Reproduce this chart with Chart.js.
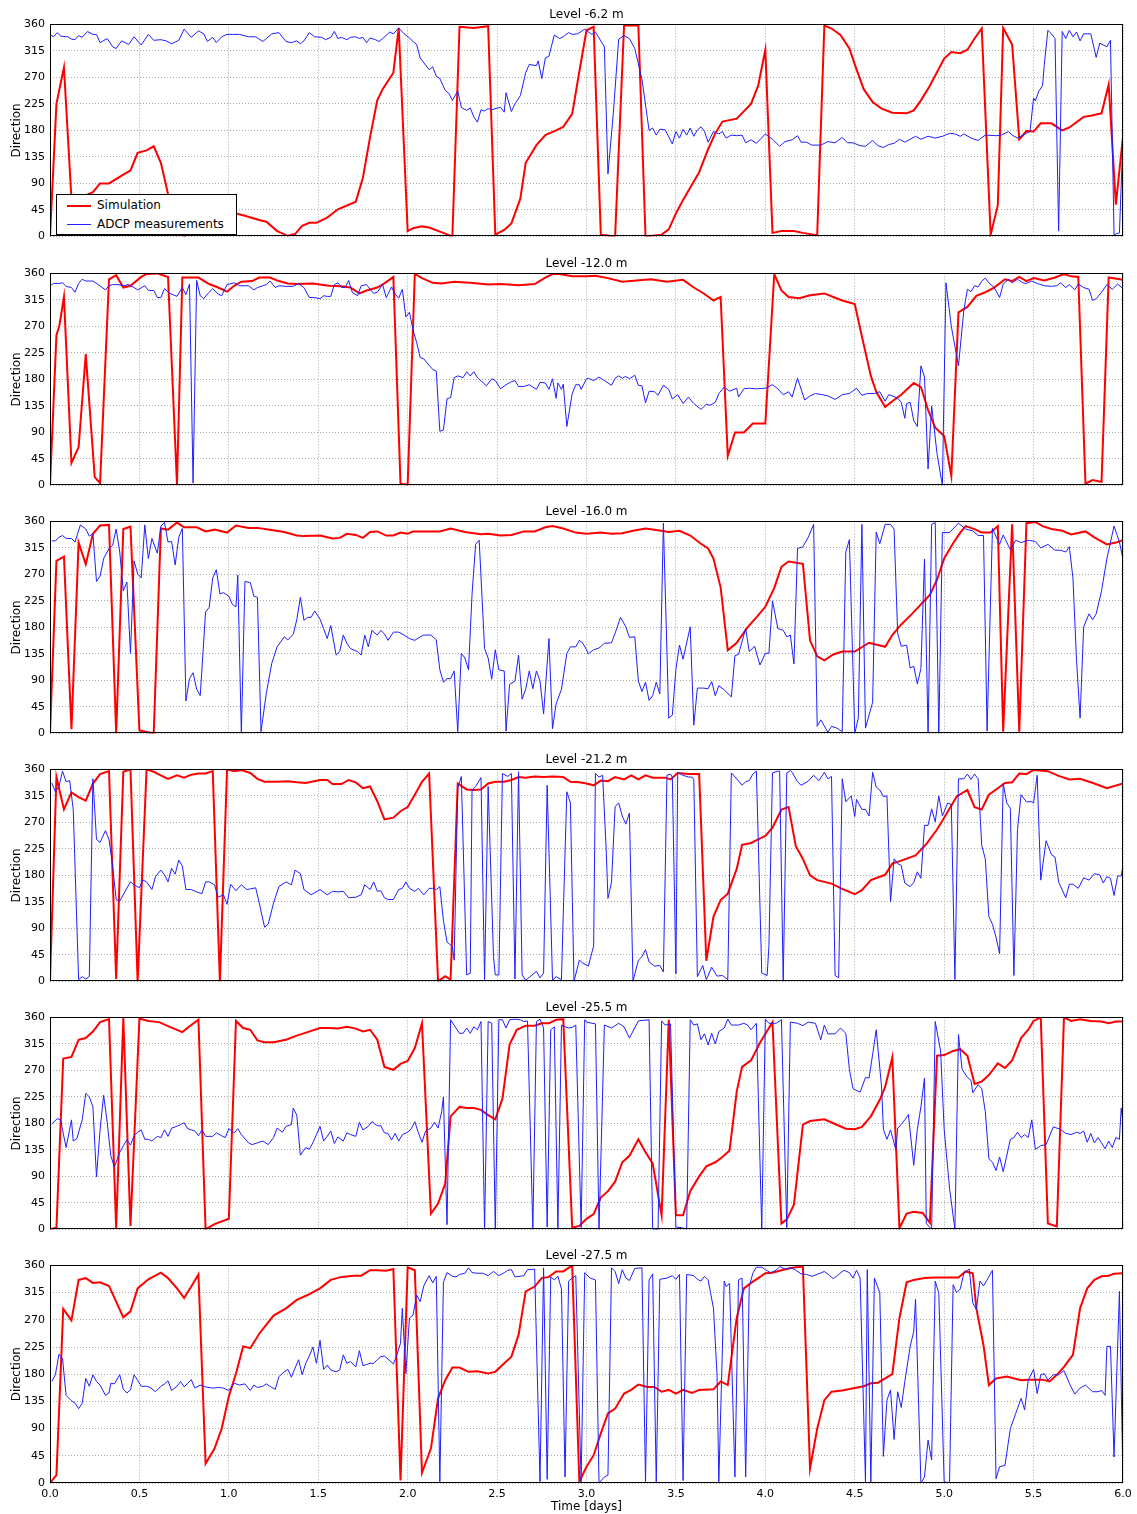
<!DOCTYPE html>
<html>
<head>
<meta charset="utf-8">
<script src="https://cdn.jsdelivr.net/npm/chart.js@4.4.1/dist/chart.umd.min.js"></script>
<style>
  body { margin: 0; background: #fff; width: 1137px; height: 1514px; position: relative; overflow: hidden; font-family: "DejaVu Sans", sans-serif; }
  .panel { position: absolute; left: 0; width: 1137px; }
  #legend { position: absolute; left: 56px; top: 194px; width: 179px; height: 39px; border: 1px solid #000; background: #fff; z-index: 2; font-size: 12px; color: #000; }
  #legend .ln { position: absolute; left: 10px; width: 24px; }
  #legend .tx { position: absolute; left: 40px; line-height: 14px; white-space: nowrap; }
</style>
</head>
<body>
<div id="legend">
  <div class="ln" style="top:10px;height:2px;background:#ff0000"></div>
  <div class="tx" style="top:3px">Simulation</div>
  <div class="ln" style="top:29px;height:1px;background:#1f1fff"></div>
  <div class="tx" style="top:22px">ADCP measurements</div>
</div>
<script>
const levels = ['Level -6.2 m', 'Level -12.0 m', 'Level -16.0 m', 'Level -21.2 m', 'Level -25.5 m', 'Level -27.5 m'];

// [time in days, direction in degrees]
const sim62 = [[0,0],[0.036,225],[0.078,287],[0.12,64],[0.18,67],[0.24,75],[0.28,90],[0.33,90],[0.41,105],[0.45,112],[0.49,142],[0.54,146],[0.58,153],[0.62,125],[0.66,72],[0.75,0],[0.79,8],[0.85,18],[0.92,28],[0.98,36],[1.04,39],[1.08,36],[1.17,28],[1.21,25],[1.27,9],[1.33,1],[1.37,4],[1.41,18],[1.45,23],[1.49,23],[1.55,32],[1.61,46],[1.71,59],[1.75,100],[1.79,169],[1.83,231],[1.86,250],[1.92,278],[1.95,354],[2.0,9],[2.03,14],[2.08,17],[2.12,15],[2.18,8],[2.25,0],[2.29,356],[2.37,354],[2.45,357],[2.49,3],[2.54,11],[2.58,22],[2.63,64],[2.66,125],[2.72,155],[2.77,172],[2.83,180],[2.87,186],[2.92,208],[2.96,280],[3.0,350],[3.04,356],[3.08,3],[3.16,0],[3.21,358],[3.29,358],[3.33,0],[3.42,3],[3.46,12],[3.5,39],[3.54,62],[3.63,109],[3.68,148],[3.72,175],[3.76,195],[3.84,200],[3.92,225],[3.96,256],[4.0,317],[4.04,6],[4.09,9],[4.16,9],[4.21,6],[4.29,2],[4.33,358],[4.37,353],[4.42,342],[4.47,319],[4.5,292],[4.55,250],[4.6,228],[4.65,217],[4.71,210],[4.79,209],[4.83,214],[4.87,231],[4.92,256],[5.0,302],[5.04,313],[5.09,311],[5.13,317],[5.17,336],[5.21,353],[5.26,3],[5.3,53],[5.33,354],[5.38,326],[5.42,165],[5.46,179],[5.5,178],[5.54,192],[5.6,192],[5.66,180],[5.7,185],[5.78,203],[5.82,205],[5.88,209],[5.92,258],[5.96,54],[6.0,170]];
const adcp62 = [[0,343],[0.02,339],[0.04,346],[0.06,340],[0.1,339],[0.12,335],[0.14,334],[0.16,341],[0.18,338],[0.21,348],[0.24,343],[0.26,343],[0.28,329],[0.32,336],[0.35,322],[0.37,319],[0.4,332],[0.44,326],[0.47,339],[0.51,325],[0.55,343],[0.58,333],[0.62,334],[0.65,332],[0.68,327],[0.72,333],[0.75,352],[0.79,338],[0.83,349],[0.86,344],[0.88,331],[0.91,338],[0.93,329],[0.96,339],[0.99,343],[1.02,343],[1.06,343],[1.11,339],[1.15,339],[1.19,331],[1.21,336],[1.24,344],[1.28,346],[1.32,331],[1.35,329],[1.38,332],[1.4,327],[1.42,332],[1.45,346],[1.48,339],[1.52,338],[1.54,334],[1.57,338],[1.59,348],[1.61,336],[1.63,338],[1.66,334],[1.68,338],[1.71,339],[1.73,336],[1.75,338],[1.77,329],[1.79,337],[1.82,334],[1.84,331],[1.86,336],[1.9,347],[1.92,344],[1.95,354],[1.98,344],[2.01,337],[2.03,331],[2.05,326],[2.07,303],[2.12,283],[2.14,288],[2.16,272],[2.18,268],[2.21,248],[2.23,243],[2.25,231],[2.28,247],[2.3,219],[2.33,214],[2.35,218],[2.37,203],[2.39,194],[2.41,215],[2.43,213],[2.45,217],[2.47,215],[2.5,218],[2.52,219],[2.54,211],[2.55,244],[2.58,212],[2.6,225],[2.63,239],[2.66,278],[2.68,292],[2.72,290],[2.73,298],[2.75,268],[2.77,303],[2.79,306],[2.82,342],[2.85,336],[2.87,339],[2.9,346],[2.92,343],[2.95,344],[2.99,352],[3.03,343],[3.05,347],[3.1,322],[3.12,106],[3.15,209],[3.18,335],[3.21,341],[3.24,336],[3.27,319],[3.31,267],[3.35,180],[3.37,184],[3.39,172],[3.41,182],[3.44,181],[3.48,157],[3.5,178],[3.52,167],[3.54,182],[3.56,172],[3.58,184],[3.6,170],[3.62,181],[3.64,186],[3.66,178],[3.68,160],[3.71,178],[3.74,174],[3.76,178],[3.78,167],[3.81,172],[3.84,171],[3.87,172],[3.89,159],[3.92,164],[3.95,158],[4.0,174],[4.04,165],[4.08,153],[4.11,161],[4.15,164],[4.18,171],[4.2,160],[4.23,160],[4.26,155],[4.31,155],[4.35,161],[4.39,159],[4.43,168],[4.46,159],[4.49,159],[4.53,154],[4.56,153],[4.6,163],[4.63,154],[4.66,151],[4.69,156],[4.72,158],[4.75,165],[4.78,160],[4.81,165],[4.84,170],[4.87,165],[4.91,170],[4.95,167],[4.99,170],[5.03,175],[5.06,174],[5.09,170],[5.11,174],[5.15,167],[5.19,163],[5.23,172],[5.29,171],[5.32,172],[5.36,178],[5.38,172],[5.41,167],[5.43,170],[5.46,175],[5.48,178],[5.5,235],[5.51,230],[5.53,247],[5.55,256],[5.56,292],[5.58,350],[5.6,344],[5.62,336],[5.64,9],[5.66,348],[5.68,336],[5.7,350],[5.72,339],[5.74,347],[5.76,332],[5.78,344],[5.82,344],[5.85,304],[5.87,328],[5.91,322],[5.93,333],[5.95,3],[5.98,6],[6.0,170]];

const sim120 = [[0,0],[0.036,255],[0.053,272],[0.078,320],[0.12,38],[0.16,65],[0.2,223],[0.25,14],[0.28,4],[0.33,350],[0.37,357],[0.41,336],[0.45,339],[0.51,354],[0.54,359],[0.6,360],[0.66,354],[0.71,2],[0.74,353],[0.83,353],[0.89,342],[0.94,336],[0.99,329],[1.03,339],[1.07,346],[1.13,347],[1.17,353],[1.23,353],[1.28,347],[1.33,343],[1.38,342],[1.47,343],[1.56,339],[1.63,338],[1.68,336],[1.73,326],[1.77,331],[1.83,336],[1.87,343],[1.92,354],[1.96,3],[2.0,1],[2.04,359],[2.08,352],[2.14,344],[2.19,343],[2.26,346],[2.35,344],[2.45,341],[2.52,342],[2.62,340],[2.71,342],[2.77,353],[2.81,359],[2.85,359],[2.92,355],[3.0,355],[3.05,356],[3.12,352],[3.2,346],[3.28,348],[3.36,350],[3.45,346],[3.54,349],[3.6,336],[3.66,325],[3.71,314],[3.75,320],[3.79,50],[3.83,90],[3.88,90],[3.93,105],[4.0,105],[4.05,359],[4.09,331],[4.13,320],[4.19,318],[4.25,323],[4.33,326],[4.38,320],[4.43,314],[4.5,308],[4.54,253],[4.59,186],[4.62,159],[4.67,133],[4.71,143],[4.76,154],[4.83,174],[4.87,167],[4.91,128],[4.95,98],[5.0,84],[5.04,16],[5.08,294],[5.13,303],[5.18,322],[5.23,328],[5.28,336],[5.34,350],[5.38,347],[5.42,354],[5.46,347],[5.5,352],[5.56,348],[5.62,353],[5.67,359],[5.71,355],[5.75,354],[5.79,3],[5.83,9],[5.88,6],[5.92,353],[6.0,349]];
const adcp120 = [[0,339],[0.02,343],[0.05,343],[0.07,344],[0.09,338],[0.12,336],[0.14,328],[0.16,343],[0.18,350],[0.2,347],[0.22,347],[0.24,347],[0.27,341],[0.31,332],[0.33,339],[0.35,341],[0.38,341],[0.41,339],[0.44,341],[0.47,336],[0.49,332],[0.53,339],[0.55,331],[0.58,331],[0.6,319],[0.62,319],[0.64,334],[0.67,326],[0.71,321],[0.74,336],[0.76,324],[0.78,342],[0.8,4],[0.82,348],[0.84,322],[0.86,317],[0.88,325],[0.91,334],[0.94,325],[0.96,322],[0.99,341],[1.03,344],[1.06,339],[1.11,339],[1.14,332],[1.16,336],[1.19,339],[1.21,341],[1.23,347],[1.26,336],[1.28,339],[1.32,338],[1.36,338],[1.39,343],[1.42,336],[1.45,319],[1.48,319],[1.51,317],[1.53,322],[1.55,321],[1.57,321],[1.59,341],[1.61,344],[1.63,336],[1.65,336],[1.67,348],[1.69,328],[1.72,322],[1.74,339],[1.77,341],[1.79,333],[1.81,326],[1.83,328],[1.86,341],[1.88,319],[1.91,337],[1.93,325],[1.95,318],[1.97,333],[1.99,286],[2.01,294],[2.03,264],[2.05,243],[2.07,217],[2.09,215],[2.12,204],[2.14,197],[2.16,194],[2.18,92],[2.2,94],[2.22,147],[2.24,149],[2.26,183],[2.28,186],[2.31,183],[2.33,193],[2.35,186],[2.37,193],[2.39,183],[2.42,175],[2.44,169],[2.47,181],[2.49,178],[2.52,164],[2.55,171],[2.58,176],[2.6,178],[2.62,168],[2.65,168],[2.68,171],[2.72,163],[2.74,175],[2.77,174],[2.79,163],[2.81,181],[2.83,148],[2.84,174],[2.86,163],[2.87,172],[2.89,100],[2.92,156],[2.94,171],[2.96,171],[2.97,163],[3.0,181],[3.01,182],[3.04,178],[3.07,184],[3.1,178],[3.14,170],[3.16,182],[3.18,186],[3.2,182],[3.22,185],[3.24,181],[3.27,187],[3.29,170],[3.31,169],[3.33,140],[3.35,160],[3.38,159],[3.4,153],[3.43,170],[3.46,163],[3.48,147],[3.51,154],[3.54,139],[3.57,150],[3.6,139],[3.64,129],[3.67,138],[3.69,136],[3.72,141],[3.74,156],[3.77,167],[3.8,160],[3.84,165],[3.85,150],[3.88,164],[3.91,165],[3.95,164],[4.0,165],[4.04,171],[4.07,164],[4.1,154],[4.13,159],[4.15,150],[4.18,182],[4.22,145],[4.25,152],[4.28,156],[4.32,154],[4.35,152],[4.39,146],[4.43,154],[4.47,156],[4.51,165],[4.54,153],[4.57,156],[4.61,156],[4.64,159],[4.67,143],[4.69,154],[4.71,152],[4.74,148],[4.76,141],[4.78,114],[4.79,139],[4.81,141],[4.83,110],[4.85,100],[4.87,203],[4.89,184],[4.91,28],[4.93,135],[4.96,54],[4.99,0],[5.01,344],[5.04,270],[5.08,203],[5.11,297],[5.13,333],[5.15,329],[5.17,339],[5.19,337],[5.21,347],[5.23,352],[5.25,344],[5.28,336],[5.31,319],[5.33,342],[5.36,350],[5.38,344],[5.41,350],[5.44,344],[5.46,343],[5.49,347],[5.52,343],[5.56,339],[5.6,338],[5.63,339],[5.65,344],[5.68,336],[5.7,341],[5.73,332],[5.75,342],[5.78,336],[5.81,333],[5.83,314],[5.85,317],[5.88,328],[5.91,341],[5.94,333],[5.97,342],[6.0,334]];

const sim160 = [[0,0],[0.036,293],[0.078,300],[0.12,7],[0.16,324],[0.2,287],[0.24,339],[0.28,353],[0.33,354],[0.37,0],[0.41,347],[0.45,351],[0.5,5],[0.58,0],[0.62,348],[0.66,346],[0.71,358],[0.75,350],[0.82,350],[0.87,343],[0.92,346],[0.99,341],[1.04,353],[1.11,349],[1.16,349],[1.23,346],[1.31,342],[1.38,336],[1.42,335],[1.51,336],[1.58,331],[1.62,332],[1.66,339],[1.71,337],[1.75,332],[1.79,342],[1.83,343],[1.88,336],[1.92,336],[1.96,341],[2.0,339],[2.03,343],[2.09,343],[2.18,343],[2.24,348],[2.32,342],[2.41,338],[2.45,339],[2.52,336],[2.58,337],[2.65,343],[2.71,343],[2.77,350],[2.81,352],[2.87,348],[2.94,341],[3.0,339],[3.08,341],[3.14,339],[3.2,340],[3.26,344],[3.33,348],[3.38,346],[3.46,342],[3.52,344],[3.58,336],[3.64,322],[3.68,314],[3.71,297],[3.75,248],[3.79,141],[3.84,154],[3.9,180],[3.95,197],[4.0,215],[4.05,247],[4.09,283],[4.13,292],[4.21,288],[4.25,158],[4.29,131],[4.33,124],[4.38,134],[4.43,139],[4.5,139],[4.58,154],[4.67,147],[4.71,167],[4.76,185],[4.82,203],[4.87,219],[4.92,235],[4.96,261],[5.0,297],[5.05,323],[5.09,341],[5.12,352],[5.17,347],[5.21,341],[5.26,341],[5.3,352],[5.33,3],[5.38,355],[5.42,3],[5.46,357],[5.51,359],[5.55,352],[5.6,347],[5.66,344],[5.71,338],[5.79,343],[5.84,333],[5.91,321],[5.96,324],[6.0,328]];
const adcp160 = [[0.01,327],[0.03,327],[0.05,333],[0.07,336],[0.09,331],[0.12,331],[0.14,325],[0.17,354],[0.2,347],[0.22,335],[0.24,339],[0.26,258],[0.28,267],[0.3,297],[0.33,314],[0.35,319],[0.37,347],[0.39,308],[0.41,242],[0.43,257],[0.45,136],[0.47,293],[0.49,271],[0.51,264],[0.53,354],[0.55,297],[0.57,331],[0.6,306],[0.62,352],[0.64,358],[0.66,325],[0.68,326],[0.7,286],[0.72,333],[0.74,348],[0.76,55],[0.78,93],[0.8,103],[0.82,75],[0.84,64],[0.87,206],[0.89,214],[0.91,264],[0.93,278],[0.95,237],[0.97,239],[1.0,233],[1.02,219],[1.04,215],[1.05,269],[1.07,0],[1.09,258],[1.12,256],[1.14,233],[1.16,231],[1.18,3],[1.21,69],[1.24,119],[1.27,147],[1.31,164],[1.33,159],[1.36,168],[1.38,193],[1.4,231],[1.42,192],[1.44,197],[1.46,197],[1.48,208],[1.51,194],[1.53,178],[1.55,161],[1.57,183],[1.6,133],[1.62,139],[1.64,167],[1.66,153],[1.68,144],[1.72,139],[1.74,133],[1.76,167],[1.78,147],[1.8,175],[1.83,167],[1.85,175],[1.87,169],[1.89,158],[1.92,172],[1.95,172],[1.98,167],[2.01,161],[2.04,158],[2.07,164],[2.09,167],[2.13,167],[2.16,159],[2.18,108],[2.2,87],[2.22,93],[2.24,93],[2.26,106],[2.28,3],[2.3,136],[2.32,128],[2.34,108],[2.36,236],[2.38,321],[2.4,328],[2.43,144],[2.45,128],[2.47,92],[2.49,142],[2.51,108],[2.54,106],[2.55,4],[2.57,83],[2.6,89],[2.62,133],[2.64,58],[2.66,75],[2.68,106],[2.7,76],[2.72,106],[2.74,89],[2.76,33],[2.79,161],[2.81,8],[2.83,50],[2.86,75],[2.89,136],[2.91,147],[2.94,147],[2.96,158],[2.98,153],[3.0,142],[3.01,135],[3.04,142],[3.07,145],[3.1,153],[3.14,154],[3.16,170],[3.19,197],[3.22,181],[3.24,163],[3.27,164],[3.29,89],[3.31,71],[3.33,87],[3.35,56],[3.37,64],[3.39,87],[3.41,67],[3.43,357],[3.46,26],[3.48,31],[3.5,109],[3.52,150],[3.54,126],[3.58,181],[3.6,14],[3.62,77],[3.65,77],[3.68,76],[3.7,88],[3.72,64],[3.74,81],[3.77,74],[3.81,62],[3.83,132],[3.85,134],[3.89,178],[3.91,139],[3.94,148],[3.97,116],[4.0,136],[4.02,136],[4.04,225],[4.07,178],[4.1,175],[4.12,164],[4.14,167],[4.16,118],[4.18,314],[4.21,317],[4.24,333],[4.27,355],[4.29,12],[4.31,23],[4.35,2],[4.37,12],[4.4,9],[4.43,3],[4.45,308],[4.47,329],[4.5,0],[4.52,26],[4.54,355],[4.56,9],[4.6,53],[4.62,342],[4.64,322],[4.67,355],[4.7,355],[4.72,347],[4.74,170],[4.76,148],[4.79,150],[4.81,111],[4.83,114],[4.85,84],[4.87,110],[4.89,296],[4.91,0],[4.93,355],[4.95,358],[4.97,0],[4.99,341],[5.03,341],[5.08,357],[5.12,347],[5.16,344],[5.19,336],[5.22,336],[5.24,4],[5.27,348],[5.31,321],[5.33,337],[5.37,312],[5.4,328],[5.43,324],[5.47,328],[5.51,326],[5.54,315],[5.58,321],[5.62,311],[5.65,311],[5.68,308],[5.7,317],[5.72,264],[5.74,125],[5.76,26],[5.78,181],[5.81,203],[5.83,193],[5.85,203],[5.88,242],[5.91,297],[5.95,352],[5.98,325],[6.0,296]];

const sim212 = [[0,0],[0.036,347],[0.078,292],[0.12,321],[0.16,313],[0.2,307],[0.24,336],[0.28,352],[0.33,357],[0.37,4],[0.41,356],[0.45,360],[0.49,0],[0.54,360],[0.58,356],[0.62,350],[0.66,344],[0.71,350],[0.75,346],[0.79,351],[0.83,353],[0.87,353],[0.91,357],[0.95,0],[0.99,360],[1.03,357],[1.07,359],[1.12,354],[1.16,344],[1.2,339],[1.27,339],[1.33,340],[1.38,338],[1.43,337],[1.51,342],[1.55,342],[1.58,335],[1.63,335],[1.67,342],[1.71,338],[1.75,328],[1.79,331],[1.83,306],[1.87,275],[1.92,278],[1.96,289],[2.0,296],[2.04,317],[2.08,339],[2.12,353],[2.17,0],[2.21,9],[2.24,3],[2.28,336],[2.33,326],[2.37,325],[2.41,326],[2.45,336],[2.49,339],[2.54,339],[2.58,342],[2.62,347],[2.66,346],[2.71,348],[2.76,347],[2.81,348],[2.87,347],[2.91,339],[2.96,338],[3.0,336],[3.04,333],[3.08,341],[3.12,340],[3.16,347],[3.21,343],[3.25,350],[3.29,343],[3.33,350],[3.37,346],[3.44,346],[3.47,343],[3.51,354],[3.57,352],[3.63,352],[3.67,35],[3.71,110],[3.75,138],[3.79,149],[3.84,191],[3.87,232],[3.92,235],[3.96,241],[4.0,247],[4.04,261],[4.09,292],[4.13,296],[4.17,230],[4.21,208],[4.25,180],[4.29,172],[4.37,166],[4.43,157],[4.5,148],[4.54,155],[4.59,172],[4.67,181],[4.71,200],[4.76,205],[4.84,214],[4.9,233],[4.96,258],[5.01,283],[5.07,314],[5.13,325],[5.17,296],[5.21,292],[5.25,317],[5.3,328],[5.34,337],[5.38,338],[5.42,353],[5.46,352],[5.5,359],[5.58,357],[5.64,349],[5.7,343],[5.76,344],[5.84,336],[5.91,328],[6.0,336]];
const adcp212 = [[0.01,337],[0.03,322],[0.05,331],[0.07,357],[0.09,339],[0.11,341],[0.13,292],[0.16,3],[0.18,8],[0.2,4],[0.22,8],[0.24,344],[0.26,241],[0.28,236],[0.31,256],[0.33,241],[0.35,197],[0.37,139],[0.39,136],[0.42,153],[0.45,169],[0.47,164],[0.5,159],[0.52,172],[0.54,169],[0.57,156],[0.59,178],[0.62,189],[0.64,181],[0.66,169],[0.68,192],[0.7,182],[0.72,206],[0.74,196],[0.76,156],[0.79,156],[0.82,152],[0.85,149],[0.87,169],[0.89,169],[0.92,164],[0.94,143],[0.97,147],[0.99,131],[1.01,165],[1.04,154],[1.07,164],[1.1,156],[1.12,157],[1.15,159],[1.17,133],[1.2,92],[1.22,97],[1.25,133],[1.28,161],[1.32,169],[1.35,164],[1.37,189],[1.4,183],[1.42,156],[1.46,147],[1.51,156],[1.55,147],[1.58,153],[1.61,152],[1.64,153],[1.67,142],[1.71,143],[1.74,147],[1.76,164],[1.79,156],[1.81,169],[1.83,153],[1.85,154],[1.87,142],[1.89,139],[1.92,139],[1.95,156],[1.97,158],[1.99,169],[2.01,158],[2.04,153],[2.06,158],[2.09,147],[2.12,158],[2.14,158],[2.16,156],[2.18,161],[2.2,103],[2.22,67],[2.25,59],[2.26,36],[2.28,328],[2.3,348],[2.33,11],[2.35,14],[2.36,325],[2.38,331],[2.41,346],[2.43,3],[2.45,331],[2.48,42],[2.49,11],[2.51,11],[2.53,353],[2.56,348],[2.58,353],[2.6,4],[2.62,356],[2.64,11],[2.66,2],[2.72,17],[2.74,6],[2.76,14],[2.78,333],[2.81,2],[2.83,8],[2.86,3],[2.87,114],[2.89,322],[2.91,303],[2.93,0],[2.96,36],[2.98,31],[3.01,26],[3.04,60],[3.05,353],[3.07,347],[3.09,350],[3.11,225],[3.12,141],[3.14,169],[3.16,297],[3.18,303],[3.2,281],[3.22,267],[3.24,286],[3.26,0],[3.29,36],[3.31,42],[3.33,54],[3.35,33],[3.38,26],[3.41,27],[3.43,16],[3.45,350],[3.47,352],[3.48,347],[3.5,13],[3.51,355],[3.54,350],[3.57,347],[3.59,347],[3.6,343],[3.62,8],[3.65,27],[3.67,3],[3.7,24],[3.73,9],[3.76,10],[3.79,3],[3.81,354],[3.84,344],[3.87,333],[3.89,339],[3.91,341],[3.93,352],[3.95,357],[3.98,14],[4.01,10],[4.02,59],[4.04,354],[4.07,357],[4.08,357],[4.1,0],[4.12,354],[4.14,358],[4.15,355],[4.18,339],[4.2,333],[4.24,340],[4.27,350],[4.3,341],[4.33,355],[4.35,344],[4.37,348],[4.39,10],[4.41,6],[4.43,344],[4.45,305],[4.48,315],[4.5,280],[4.51,309],[4.54,292],[4.56,292],[4.58,281],[4.6,355],[4.62,330],[4.64,325],[4.66,314],[4.68,315],[4.7,135],[4.72,208],[4.74,200],[4.76,197],[4.78,167],[4.81,161],[4.83,168],[4.85,186],[4.87,175],[4.89,265],[4.91,265],[4.93,293],[4.95,271],[4.97,315],[4.99,281],[5.02,303],[5.04,300],[5.06,3],[5.08,344],[5.11,344],[5.13,352],[5.15,343],[5.17,352],[5.19,344],[5.21,231],[5.23,208],[5.25,110],[5.27,97],[5.29,75],[5.31,47],[5.33,336],[5.35,303],[5.37,294],[5.39,10],[5.41,258],[5.43,317],[5.46,305],[5.49,305],[5.5,303],[5.52,350],[5.54,172],[5.57,239],[5.6,215],[5.62,211],[5.64,169],[5.68,142],[5.7,165],[5.72,165],[5.75,158],[5.78,176],[5.81,172],[5.84,183],[5.87,181],[5.89,167],[5.91,178],[5.93,175],[5.95,146],[5.97,179],[5.99,179],[6.0,197]];

const sim255 = [[0,0],[0.036,3],[0.074,290],[0.12,293],[0.16,322],[0.2,325],[0.24,336],[0.28,352],[0.33,357],[0.37,2],[0.41,359],[0.45,6],[0.5,358],[0.55,354],[0.61,352],[0.67,344],[0.74,335],[0.79,347],[0.83,356],[0.87,0],[0.92,9],[1.0,18],[1.04,354],[1.08,342],[1.12,339],[1.16,321],[1.2,318],[1.25,318],[1.32,322],[1.38,329],[1.44,335],[1.51,342],[1.56,342],[1.61,341],[1.66,344],[1.71,341],[1.75,336],[1.79,339],[1.83,322],[1.87,276],[1.92,271],[1.96,281],[2.0,286],[2.04,308],[2.08,350],[2.13,27],[2.17,44],[2.21,78],[2.24,192],[2.29,208],[2.33,206],[2.37,206],[2.41,203],[2.45,194],[2.49,187],[2.53,222],[2.57,314],[2.61,339],[2.66,346],[2.71,346],[2.75,350],[2.79,350],[2.83,356],[2.87,357],[2.92,3],[2.96,6],[3.0,18],[3.04,26],[3.08,54],[3.12,65],[3.16,81],[3.2,114],[3.24,125],[3.29,153],[3.33,131],[3.37,112],[3.42,24],[3.46,356],[3.5,24],[3.54,24],[3.58,65],[3.63,90],[3.67,107],[3.72,114],[3.76,123],[3.8,134],[3.84,234],[3.87,276],[3.92,287],[3.97,317],[4.01,337],[4.04,352],[4.09,10],[4.12,17],[4.16,42],[4.21,178],[4.25,184],[4.33,187],[4.39,179],[4.45,171],[4.5,170],[4.54,174],[4.59,192],[4.64,220],[4.67,242],[4.71,292],[4.75,2],[4.79,27],[4.83,30],[4.88,28],[4.92,11],[4.96,295],[5.0,296],[5.05,303],[5.09,306],[5.13,295],[5.17,247],[5.21,251],[5.25,262],[5.3,282],[5.34,274],[5.38,287],[5.43,325],[5.47,339],[5.5,354],[5.54,360],[5.58,10],[5.63,5],[5.67,360],[5.71,354],[5.76,357],[5.82,354],[5.88,353],[5.92,350],[5.96,353],[6.0,353]];
const adcp255 = [[0.01,179],[0.04,188],[0.06,186],[0.07,169],[0.09,139],[0.12,186],[0.13,150],[0.15,154],[0.18,186],[0.2,231],[0.22,225],[0.24,208],[0.26,89],[0.28,169],[0.3,228],[0.32,181],[0.34,125],[0.36,106],[0.39,131],[0.41,142],[0.43,152],[0.45,143],[0.47,159],[0.49,165],[0.51,169],[0.53,153],[0.55,153],[0.57,150],[0.6,158],[0.62,156],[0.64,169],[0.66,158],[0.68,172],[0.7,174],[0.73,178],[0.75,181],[0.77,171],[0.79,169],[0.81,167],[0.83,159],[0.85,169],[0.87,158],[0.91,158],[0.93,164],[0.96,159],[0.98,156],[1.0,171],[1.03,164],[1.05,171],[1.07,161],[1.11,147],[1.13,144],[1.16,147],[1.19,150],[1.22,144],[1.25,156],[1.27,172],[1.3,165],[1.32,175],[1.35,178],[1.36,206],[1.38,194],[1.4,126],[1.43,139],[1.45,136],[1.47,147],[1.49,161],[1.51,175],[1.53,150],[1.55,158],[1.57,167],[1.59,146],[1.61,157],[1.64,150],[1.66,164],[1.68,161],[1.71,158],[1.73,182],[1.75,169],[1.78,175],[1.8,183],[1.83,176],[1.85,176],[1.87,164],[1.89,163],[1.91,152],[1.93,163],[1.95,150],[1.97,161],[2.0,165],[2.02,171],[2.04,183],[2.06,164],[2.08,148],[2.1,167],[2.13,172],[2.15,182],[2.17,172],[2.19,200],[2.2,225],[2.22,8],[2.24,356],[2.27,342],[2.29,333],[2.31,333],[2.33,342],[2.35,333],[2.37,344],[2.39,339],[2.41,353],[2.43,0],[2.45,353],[2.47,350],[2.49,0],[2.51,356],[2.53,356],[2.55,342],[2.57,356],[2.6,357],[2.63,356],[2.65,353],[2.67,354],[2.7,0],[2.72,353],[2.74,357],[2.76,342],[2.78,4],[2.8,339],[2.82,344],[2.84,0],[2.86,347],[2.88,344],[2.9,342],[2.92,343],[2.94,347],[2.97,3],[2.99,356],[3.0,352],[3.05,349],[3.07,0],[3.1,347],[3.14,342],[3.18,350],[3.21,344],[3.24,325],[3.29,354],[3.35,356],[3.37,0],[3.4,0],[3.42,354],[3.44,347],[3.47,349],[3.5,4],[3.53,3],[3.56,0],[3.58,356],[3.6,347],[3.62,349],[3.64,322],[3.66,332],[3.68,313],[3.7,333],[3.72,315],[3.74,336],[3.77,342],[3.79,357],[3.81,347],[3.85,347],[3.88,350],[3.9,347],[3.92,339],[3.95,350],[3.98,0],[4.0,357],[4.02,350],[4.06,350],[4.09,356],[4.12,3],[4.14,352],[4.18,350],[4.21,346],[4.24,352],[4.28,350],[4.31,322],[4.33,347],[4.35,332],[4.39,332],[4.42,342],[4.45,333],[4.47,272],[4.49,239],[4.53,233],[4.56,258],[4.58,257],[4.6,297],[4.62,339],[4.65,242],[4.66,170],[4.68,153],[4.7,169],[4.73,135],[4.74,172],[4.76,178],[4.78,186],[4.8,195],[4.83,109],[4.85,170],[4.87,208],[4.89,257],[4.9,10],[4.93,0],[4.95,353],[4.98,303],[5.0,170],[5.03,70],[5.06,0],[5.08,331],[5.1,272],[5.13,258],[5.15,253],[5.16,232],[5.19,246],[5.21,239],[5.23,200],[5.25,120],[5.27,114],[5.29,100],[5.31,123],[5.33,98],[5.35,125],[5.37,153],[5.39,156],[5.41,165],[5.43,156],[5.45,161],[5.47,156],[5.49,186],[5.51,136],[5.54,142],[5.57,144],[5.61,174],[5.65,170],[5.68,163],[5.71,161],[5.74,165],[5.76,163],[5.78,167],[5.8,148],[5.82,163],[5.84,147],[5.86,156],[5.88,147],[5.9,137],[5.92,150],[5.94,139],[5.96,156],[5.98,153],[5.99,206],[6.0,181]];

const sim275 = [[0,0],[0.036,13],[0.074,288],[0.12,269],[0.16,336],[0.2,339],[0.24,331],[0.28,332],[0.33,326],[0.37,300],[0.41,274],[0.45,284],[0.49,322],[0.55,337],[0.62,348],[0.66,339],[0.71,322],[0.75,306],[0.79,325],[0.83,345],[0.87,32],[0.92,57],[0.96,90],[1.0,143],[1.04,181],[1.08,226],[1.12,223],[1.17,247],[1.21,262],[1.25,277],[1.32,289],[1.38,303],[1.44,311],[1.51,322],[1.57,336],[1.63,341],[1.7,343],[1.74,343],[1.79,352],[1.83,352],[1.88,351],[1.92,354],[1.96,4],[2.0,357],[2.04,352],[2.08,17],[2.13,57],[2.17,140],[2.21,170],[2.25,191],[2.29,191],[2.34,184],[2.39,185],[2.45,181],[2.49,184],[2.54,198],[2.58,209],[2.62,245],[2.66,317],[2.71,325],[2.75,339],[2.79,341],[2.83,350],[2.87,350],[2.92,360],[2.96,2],[3.0,27],[3.04,46],[3.08,82],[3.12,115],[3.16,123],[3.21,148],[3.25,154],[3.29,163],[3.34,159],[3.38,159],[3.42,151],[3.46,154],[3.5,148],[3.54,154],[3.59,149],[3.63,154],[3.71,155],[3.75,168],[3.79,162],[3.84,273],[3.88,322],[3.92,331],[3.96,339],[4.0,347],[4.04,348],[4.09,352],[4.15,356],[4.21,358],[4.25,24],[4.29,90],[4.33,137],[4.37,151],[4.43,153],[4.5,157],[4.55,160],[4.59,165],[4.63,166],[4.67,173],[4.71,180],[4.75,273],[4.79,332],[4.83,336],[4.89,339],[4.95,340],[5.03,340],[5.08,340],[5.12,350],[5.16,347],[5.18,289],[5.22,228],[5.25,162],[5.29,173],[5.35,176],[5.43,170],[5.47,171],[5.55,171],[5.59,168],[5.63,179],[5.67,192],[5.72,212],[5.76,289],[5.8,322],[5.84,336],[5.88,342],[5.92,343],[5.95,346],[6.0,347]];
const adcp275 = [[0.01,168],[0.03,179],[0.05,213],[0.07,206],[0.09,145],[0.12,136],[0.14,132],[0.16,123],[0.18,132],[0.2,173],[0.22,160],[0.24,179],[0.26,168],[0.28,162],[0.31,145],[0.33,149],[0.34,165],[0.36,164],[0.39,179],[0.41,155],[0.43,149],[0.45,154],[0.47,179],[0.49,170],[0.51,160],[0.54,160],[0.56,158],[0.59,151],[0.62,160],[0.64,164],[0.66,169],[0.68,153],[0.71,160],[0.73,168],[0.75,159],[0.77,165],[0.79,171],[0.81,157],[0.84,162],[0.87,159],[0.91,157],[0.94,158],[0.97,157],[1.0,153],[1.03,165],[1.06,162],[1.09,164],[1.12,153],[1.14,162],[1.16,158],[1.19,160],[1.21,164],[1.24,158],[1.26,155],[1.28,176],[1.31,184],[1.33,188],[1.35,175],[1.37,190],[1.39,204],[1.41,179],[1.43,198],[1.45,210],[1.47,225],[1.49,198],[1.51,236],[1.53,188],[1.55,195],[1.57,187],[1.6,184],[1.62,187],[1.64,212],[1.66,198],[1.68,201],[1.71,192],[1.73,219],[1.75,194],[1.77,196],[1.79,198],[1.81,198],[1.83,204],[1.85,209],[1.87,210],[1.89,205],[1.92,197],[1.94,212],[1.96,231],[1.97,289],[1.99,181],[2.01,273],[2.03,278],[2.05,311],[2.07,300],[2.09,326],[2.12,343],[2.14,331],[2.16,342],[2.18,2],[2.2,332],[2.22,348],[2.25,342],[2.27,341],[2.29,345],[2.32,347],[2.34,356],[2.36,348],[2.39,347],[2.42,347],[2.45,343],[2.48,350],[2.51,343],[2.54,348],[2.56,352],[2.58,353],[2.6,341],[2.63,342],[2.65,343],[2.67,353],[2.69,353],[2.71,354],[2.74,2],[2.76,356],[2.78,6],[2.8,341],[2.82,336],[2.84,342],[2.86,321],[2.88,10],[2.9,334],[2.92,339],[2.94,343],[2.97,2],[2.99,348],[3.02,339],[3.05,336],[3.07,0],[3.1,10],[3.12,13],[3.14,356],[3.16,350],[3.18,330],[3.2,353],[3.22,339],[3.24,335],[3.27,355],[3.31,356],[3.33,2],[3.35,336],[3.37,346],[3.39,0],[3.41,337],[3.45,339],[3.48,343],[3.5,337],[3.52,345],[3.54,4],[3.56,345],[3.6,343],[3.62,337],[3.64,334],[3.66,342],[3.68,336],[3.71,289],[3.73,179],[3.74,2],[3.77,334],[3.78,325],[3.8,330],[3.83,10],[3.85,336],[3.87,339],[3.89,10],[3.91,325],[3.93,347],[3.95,357],[3.98,357],[4.0,353],[4.03,348],[4.06,352],[4.08,358],[4.11,354],[4.14,356],[4.16,354],[4.2,346],[4.23,345],[4.26,342],[4.29,345],[4.33,350],[4.36,343],[4.38,338],[4.41,345],[4.44,352],[4.47,348],[4.49,339],[4.51,352],[4.53,339],[4.56,2],[4.57,353],[4.59,2],[4.61,339],[4.64,315],[4.66,44],[4.68,137],[4.7,154],[4.72,72],[4.74,151],[4.76,125],[4.78,168],[4.81,226],[4.83,251],[4.84,304],[4.87,0],[4.89,10],[4.91,71],[4.93,38],[4.95,334],[4.97,314],[5.0,2],[5.03,0],[5.05,328],[5.07,315],[5.09,321],[5.11,347],[5.14,354],[5.16,298],[5.18,287],[5.2,334],[5.22,326],[5.24,336],[5.27,352],[5.29,7],[5.31,27],[5.34,29],[5.37,90],[5.4,115],[5.43,140],[5.45,121],[5.47,170],[5.5,188],[5.52,148],[5.54,179],[5.56,181],[5.58,170],[5.61,179],[5.64,179],[5.67,186],[5.7,165],[5.73,147],[5.76,157],[5.79,162],[5.83,151],[5.86,151],[5.88,153],[5.9,145],[5.91,226],[5.93,226],[5.95,43],[5.98,317],[6.0,2]];

const simSeries = [sim62, sim120, sim160, sim212, sim255, sim275];
const adcpSeries = [adcp62, adcp120, adcp160, adcp212, adcp255, adcp275];

Chart.defaults.font.family = '"DejaVu Sans", sans-serif';
Chart.defaults.font.size = 11;
Chart.defaults.color = '#000';

const toXY = arr => arr.map(([t, v]) => ({ x: t, y: v }));

// black box around the plotting area, drawn over the lines
const framePlugin = {
  id: 'frame',
  afterDatasetsDraw(chart) {
    const { ctx, chartArea: a } = chart;
    ctx.save();
    ctx.strokeStyle = '#000';
    ctx.lineWidth = 1;
    ctx.strokeRect(Math.round(a.left) + 0.5, Math.round(a.top) + 0.5, Math.round(a.width) - 1, Math.round(a.height) - 1);
    ctx.restore();
  }
};

const gridStyle = { color: '#a8a8a8', lineWidth: 1, drawTicks: false };
const dotted = { display: false, dash: [1, 2] };

levels.forEach((name, i) => {
  const last = i === levels.length - 1;
  const wrap = document.createElement('div');
  wrap.className = 'panel';
  wrap.style.top = (i * 248 + (i > 0 ? 1 : 0)) + 'px';
  const cv = document.createElement('canvas');
  cv.width = 1137;
  cv.height = last ? 273 : 248;
  wrap.appendChild(cv);
  document.body.appendChild(wrap);

  new Chart(cv, {
    type: 'line',
    data: {
      datasets: [
        { label: 'Simulation', data: toXY(simSeries[i]), borderColor: '#ff0000', borderWidth: 2, order: 1 },
        { label: 'ADCP measurements', data: toXY(adcpSeries[i]), borderColor: '#1f1fff', borderWidth: 1, order: 0 }
      ]
    },
    options: {
      responsive: false,
      animation: false,
      devicePixelRatio: 1,
      elements: { point: { radius: 0 }, line: { tension: 0, fill: false } },
      layout: { padding: { left: 0, right: 14, top: 0, bottom: last ? 0 : 7 } },
      plugins: {
        legend: { display: false },
        tooltip: { enabled: false },
        title: {
          display: true, text: name, fullSize: false, color: '#000',
          font: { size: 12, weight: 'normal' }, padding: { top: 8, bottom: 2 }
        }
      },
      scales: {
        x: {
          type: 'linear', min: 0, max: 6,
          ticks: { display: last, stepSize: 0.5, autoSkip: false, maxRotation: 0, padding: 5, callback: v => v.toFixed(1) },
          grid: gridStyle,
          border: dotted,
          title: { display: last, text: 'Time [days]', font: { size: 12 }, padding: 0 },
          afterFit: s => { s.height = last ? 31 : 0; }
        },
        y: {
          min: 0, max: 360,
          ticks: { stepSize: 45, autoSkip: false, padding: 5 },
          grid: gridStyle,
          border: dotted,
          title: { display: true, text: 'Direction', font: { size: 12 }, padding: { top: 10, bottom: 0 } },
          afterFit: s => { s.width = 50; }
        }
      }
    },
    plugins: [framePlugin]
  });
});
</script>
</body>
</html>
